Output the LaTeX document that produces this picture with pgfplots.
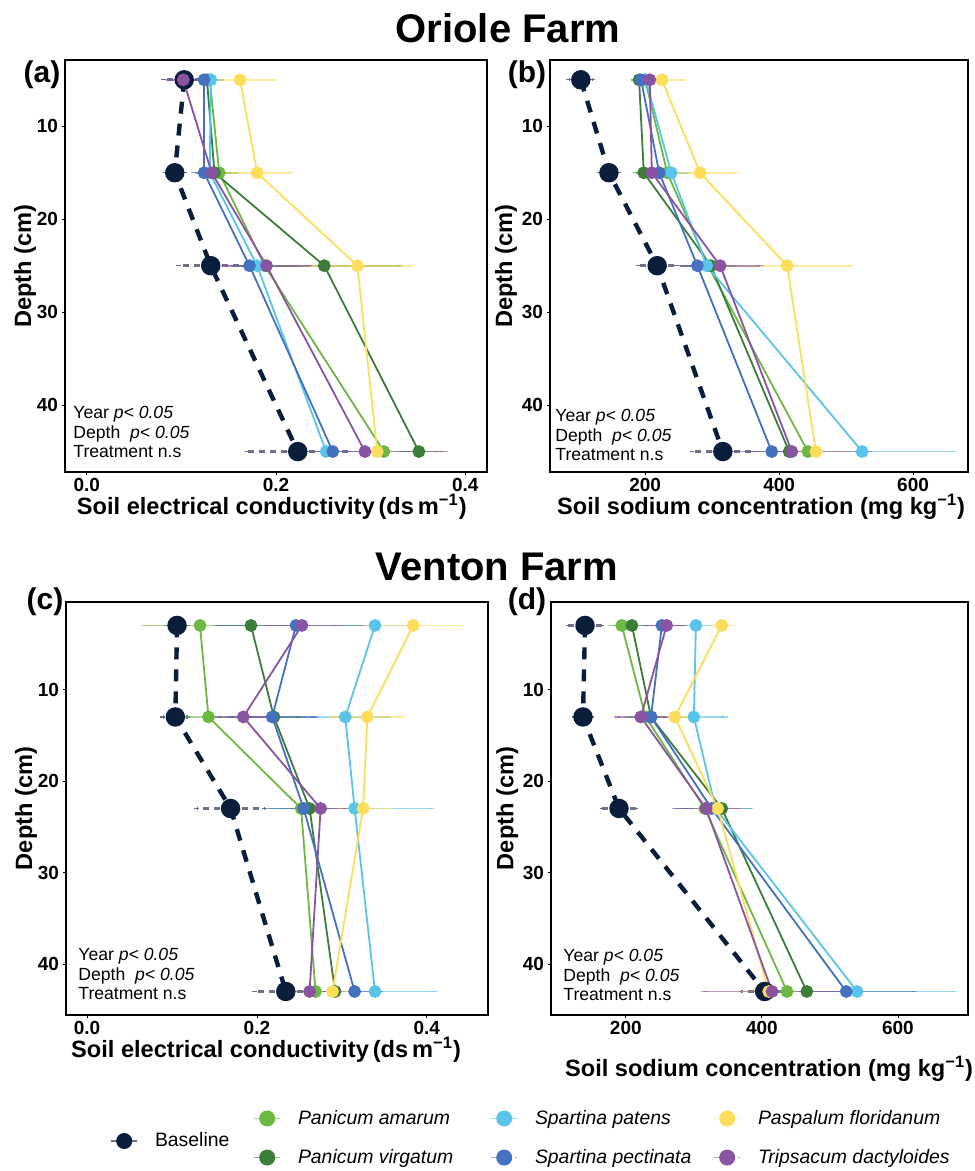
\documentclass[border=0pt]{standalone}
\usepackage{pgfplots}
\pgfplotsset{compat=1.18}
\usepackage{fontspec}
\setmainfont{Liberation Sans}

\definecolor{cBase}{HTML}{0A1E3C}
\definecolor{cBErr}{HTML}{6E7088}
\definecolor{cAm}{HTML}{6DB843}
\definecolor{cVi}{HTML}{3D7D3A}
\definecolor{cPa}{HTML}{5BC4EA}
\definecolor{cPe}{HTML}{4472C0}
\definecolor{cFl}{HTML}{FDDD5C}
\definecolor{cDa}{HTML}{8A54A2}

\pgfplotsset{
  panel/.style={
    scale only axis, y dir=reverse,
    ytick={10,20,30,40}, yticklabels={10,20,30,40},
    xtick pos=left, ytick pos=left, tick align=outside,
    major tick length=1.5pt,
    every tick/.style={black, line width=0.4pt},
    axis line style={line width=0.6pt},
    ticklabel style={font=\bfseries\fontsize{9.5}{9.5}\selectfont},
    xticklabel style={yshift=2pt},
    yticklabel style={xshift=1.5pt},
    label style={font=\bfseries\fontsize{11.8}{11.8}\selectfont},
  },
  sp/.style={color=#1, line width=0.9pt, mark=*, mark size=2.75pt, mark options={solid},
    error bars/.cd, x dir=both, x explicit,
    error bar style={color=#1, opacity=0.6, line width=0.9pt, solid},
    error mark options={color=#1, opacity=0.6, mark size=1.6pt, line width=0.7pt}},
  base/.style={color=cBase, line width=2.2pt, dash pattern=on 6pt off 5pt, mark=*, mark size=3.75pt,
    mark options={solid},
    error bars/.cd, x dir=both, x explicit,
    error bar style={color=cBErr, line width=1.6pt, dash pattern=on 3pt off 2.5pt},
    error mark options={color=cBErr, mark size=1.2pt, line width=0.6pt}},
  leg/.style={hide axis, scale only axis, width=1pt, height=1pt, xmin=0, xmax=1, ymin=0, ymax=1,
    anchor=south west,
    legend style={at={(0,0.5)}, anchor=west, draw=none, fill=none, inner sep=0pt,
      font=\fontsize{9.7}{9.7}\selectfont\itshape, row sep=7pt,
      /tikz/every odd column/.append style={column sep=6.5pt}},
    legend cell align=left,
    legend image code/.code={\draw[mark repeat=2,mark phase=2,##1] plot coordinates {(0pt,0pt)(6.5pt,0pt)(13pt,0pt)};}},
}

\begin{document}
\begin{tikzpicture}
\useasboundingbox (0,0) rectangle (487pt,-585.5pt);

% (a) Oriole, EC
\begin{axis}[panel, at={(32.5pt,-236pt)}, anchor=south west, width=211pt, height=206pt,
  xmin=-0.023, xmax=0.423, ymin=2.87, ymax=47.2,
  xtick={0,0.2,0.4}, xticklabels={0.0,0.2,0.4},
  xlabel={Soil electrical conductivity\,(ds\,m\textsuperscript{−1})}, ylabel={Depth (cm)},
  xlabel style={at={(axis description cs:0.49,-0.102)}, anchor=base},
  ylabel style={at={(axis description cs:-0.095,0.5)}, anchor=center}]
\addplot[base] coordinates {(0.103,5) +- (0.022,0) (0.093,15) +- (0.01,0) (0.131,25) +- (0.034,0) (0.223,45) +- (0.053,0)};
\addplot[sp=cAm] coordinates {(0.130,5) +- (0.012,0) (0.140,15) +- (0.02,0) (0.188,25) +- (0.03,0) (0.314,45) +- (0.03,0)};
\addplot[sp=cVi] coordinates {(0.127,5) +- (0.008,0) (0.135,15) +- (0.015,0) (0.251,25) +- (0.08,0) (0.351,45) +- (0.02,0)};
\addplot[sp=cPa] coordinates {(0.131,5) +- (0.012,0) (0.130,15) +- (0.012,0) (0.180,25) +- (0.02,0) (0.253,45) +- (0.02,0)};
\addplot[sp=cPe] coordinates {(0.124,5) +- (0.008,0) (0.124,15) +- (0.01,0) (0.172,25) +- (0.02,0) (0.260,45) +- (0.025,0)};
\addplot[sp=cFl] coordinates {(0.162,5) +- (0.035,0) (0.180,15) +- (0.035,0) (0.286,25) +- (0.057,0) (0.307,45) +- (0.02,0)};
\addplot[sp=cDa] coordinates {(0.102,5) +- (0.015,0) (0.132,15) +- (0.012,0) (0.190,25) +- (0.045,0) (0.294,45) +- (0.084,0)};
\end{axis}

% (b) Oriole, Na
\begin{axis}[panel, at={(275pt,-236pt)}, anchor=south west, width=209pt, height=206pt,
  xmin=58, xmax=682, ymin=2.87, ymax=47.2,
  xtick={200,400,600}, xticklabels={200,400,600},
  xlabel={Soil sodium concentration (mg kg\textsuperscript{−1})}, ylabel={Depth (cm)},
  xlabel style={at={(axis description cs:0.505,-0.102)}, anchor=base},
  ylabel style={at={(axis description cs:-0.105,0.5)}, anchor=center}]
\addplot[base] coordinates {(104,5) +- (18,0) (146,15) +- (15,0) (218,25) +- (28,0) (316,45) +- (46,0)};
\addplot[sp=cAm] coordinates {(200,5) +- (10,0) (233,15) +- (30,0) (294,25) +- (40,0) (443,45) +- (40,0)};
\addplot[sp=cVi] coordinates {(191,5) +- (8,0) (198,15) +- (12,0) (298,25) +- (35,0) (415,45) +- (30,0)};
\addplot[sp=cPa] coordinates {(201,5) +- (12,0) (239,15) +- (25,0) (292,25) +- (30,0) (524,45) +- (136,0)};
\addplot[sp=cPe] coordinates {(194,5) +- (8,0) (221,15) +- (12,0) (278,25) +- (25,0) (389,45) +- (25,0)};
\addplot[sp=cFl] coordinates {(225,5) +- (30,0) (282,15) +- (55,0) (412,25) +- (95,0) (455,45) +- (35,0)};
\addplot[sp=cDa] coordinates {(207,5) +- (10,0) (210,15) +- (12,0) (312,25) +- (60,0) (419,45) +- (115,0)};
\end{axis}

% (c) Venton, EC
\begin{axis}[panel, at={(33pt,-507.5pt)}, anchor=south west, width=211pt, height=206.5pt,
  xmin=-0.0247, xmax=0.472, ymin=0.44, ymax=45.57,
  xtick={0,0.2,0.4}, xticklabels={0.0,0.2,0.4},
  xlabel={Soil electrical conductivity\,(ds\,m\textsuperscript{−1})}, ylabel={Depth (cm)},
  xlabel style={at={(axis description cs:0.474,-0.102)}, anchor=base},
  ylabel style={at={(axis description cs:-0.095,0.5)}, anchor=center}]
\addplot[base] coordinates {(0.106,3) +- (0.012,0) (0.104,13) +- (0.015,0) (0.169,23) +- (0.04,0) (0.234,43) +- (0.037,0)};
\addplot[sp=cAm] coordinates {(0.133,3) +- (0.065,0) (0.143,13) +- (0.03,0) (0.252,23) +- (0.03,0) (0.269,43) +- (0.02,0)};
\addplot[sp=cVi] coordinates {(0.193,3) +- (0.04,0) (0.220,13) +- (0.03,0) (0.262,23) +- (0.03,0) (0.292,43) +- (0.02,0)};
\addplot[sp=cPa] coordinates {(0.339,3) +- (0.04,0) (0.304,13) +- (0.05,0) (0.315,23) +- (0.09,0) (0.339,43) +- (0.07,0)};
\addplot[sp=cPe] coordinates {(0.246,3) +- (0.09,0) (0.218,13) +- (0.05,0) (0.255,23) +- (0.04,0) (0.315,43) +- (0.03,0)};
\addplot[sp=cFl] coordinates {(0.384,3) +- (0.055,0) (0.330,13) +- (0.04,0) (0.325,23) +- (0.03,0) (0.289,43) +- (0.02,0)};
\addplot[sp=cDa] coordinates {(0.253,3) +- (0.04,0) (0.184,13) +- (0.03,0) (0.275,23) +- (0.03,0) (0.262,43) +- (0.02,0)};
\end{axis}

% (d) Venton, Na
\begin{axis}[panel, at={(275.5pt,-507.5pt)}, anchor=south west, width=208.5pt, height=206.5pt,
  xmin=90, xmax=703, ymin=0.44, ymax=45.57,
  xtick={200,400,600}, xticklabels={200,400,600},
  xlabel={Soil sodium concentration (mg kg\textsuperscript{−1})}, ylabel={Depth (cm)},
  xlabel style={at={(axis description cs:0.523,-0.148)}, anchor=base},
  ylabel style={at={(axis description cs:-0.105,0.5)}, anchor=center}]
\addplot[base] coordinates {(140,3) +- (25,0) (137,13) +- (12,0) (190,23) +- (25,0) (404,43) +- (35,0)};
\addplot[sp=cAm] coordinates {(194,3) +- (15,0) (229,13) +- (25,0) (316,23) +- (40,0) (437,43) +- (40,0)};
\addplot[sp=cVi] coordinates {(209,3) +- (20,0) (237,13) +- (20,0) (341,23) +- (40,0) (466,43) +- (40,0)};
\addplot[sp=cPa] coordinates {(303,3) +- (20,0) (300,13) +- (45,0) (332,23) +- (50,0) (540,43) +- (142,0)};
\addplot[sp=cPe] coordinates {(253,3) +- (25,0) (237,13) +- (20,0) (326,23) +- (40,0) (524,43) +- (100,0)};
\addplot[sp=cFl] coordinates {(341,3) +- (15,0) (272,13) +- (20,0) (335,23) +- (30,0) (410,43) +- (40,0)};
\addplot[sp=cDa] coordinates {(260,3) +- (25,0) (222,13) +- (35,0) (318,23) +- (45,0) (415,43) +- (100,0)};
\end{axis}

% legends
\begin{axis}[leg, at={(55pt,-571pt)}, legend style={font=\fontsize{9.7}{9.7}\selectfont}]
\addlegendimage{color=cBErr, line width=0.8pt, mark=*, mark size=3.6pt, mark options={fill=cBase, draw=cBase}}
\addlegendentry{Baseline}
\end{axis}
\begin{axis}[leg, at={(126.5pt,-569.5pt)}]
\addlegendimage{color=cAm!60, line width=0.8pt, mark=*, mark size=3.6pt, mark options={fill=cAm, draw=cAm}}
\addlegendentry{Panicum amarum}
\addlegendimage{color=cVi!60, line width=0.8pt, mark=*, mark size=3.6pt, mark options={fill=cVi, draw=cVi}}
\addlegendentry{Panicum virgatum}
\end{axis}
\begin{axis}[leg, at={(245pt,-569.5pt)}]
\addlegendimage{color=cPa!60, line width=0.8pt, mark=*, mark size=3.6pt, mark options={fill=cPa, draw=cPa}}
\addlegendentry{Spartina patens}
\addlegendimage{color=cPe!60, line width=0.8pt, dashed, mark=*, mark size=3.6pt, mark options={solid, fill=cPe, draw=cPe}}
\addlegendentry{Spartina pectinata}
\end{axis}
\begin{axis}[leg, at={(356.5pt,-569.5pt)}]
\addlegendimage{color=cFl!60, line width=0.8pt, dashed, mark=*, mark size=3.6pt, mark options={solid, fill=cFl, draw=cFl}}
\addlegendentry{Paspalum floridanum}
\addlegendimage{color=cDa!60, line width=0.8pt, dashed, mark=*, mark size=3.6pt, mark options={solid, fill=cDa, draw=cDa}}
\addlegendentry{Tripsacum dactyloides}
\end{axis}

% titles, panel tags, statistics
\node[font=\bfseries\fontsize{20}{20}\selectfont] at (254pt,-14pt) {Oriole Farm};
\node[font=\bfseries\fontsize{20}{20}\selectfont] at (248.5pt,-283.5pt) {Venton Farm};
\node[font=\bfseries\fontsize{15}{15}\selectfont] at (21pt,-37.5pt) {(a)};
\node[font=\bfseries\fontsize{15}{15}\selectfont] at (263.5pt,-37.5pt) {(b)};
\node[font=\bfseries\fontsize{15}{15}\selectfont] at (22.5pt,-301pt) {(c)};
\node[font=\bfseries\fontsize{15}{15}\selectfont] at (263.5pt,-301pt) {(d)};
\foreach \px/\py in {36.5/-203, 277.5/-204.5, 39/-474, 281.5/-474.5}
  \node[anchor=north west, align=left, inner sep=0pt, font=\fontsize{8.8}{9.75}\selectfont]
    at (\px pt,\py pt) {Year \textit{p< 0.05}\\Depth\ \ \textit{p< 0.05}\\Treatment n.s};
\end{tikzpicture}
\end{document}
